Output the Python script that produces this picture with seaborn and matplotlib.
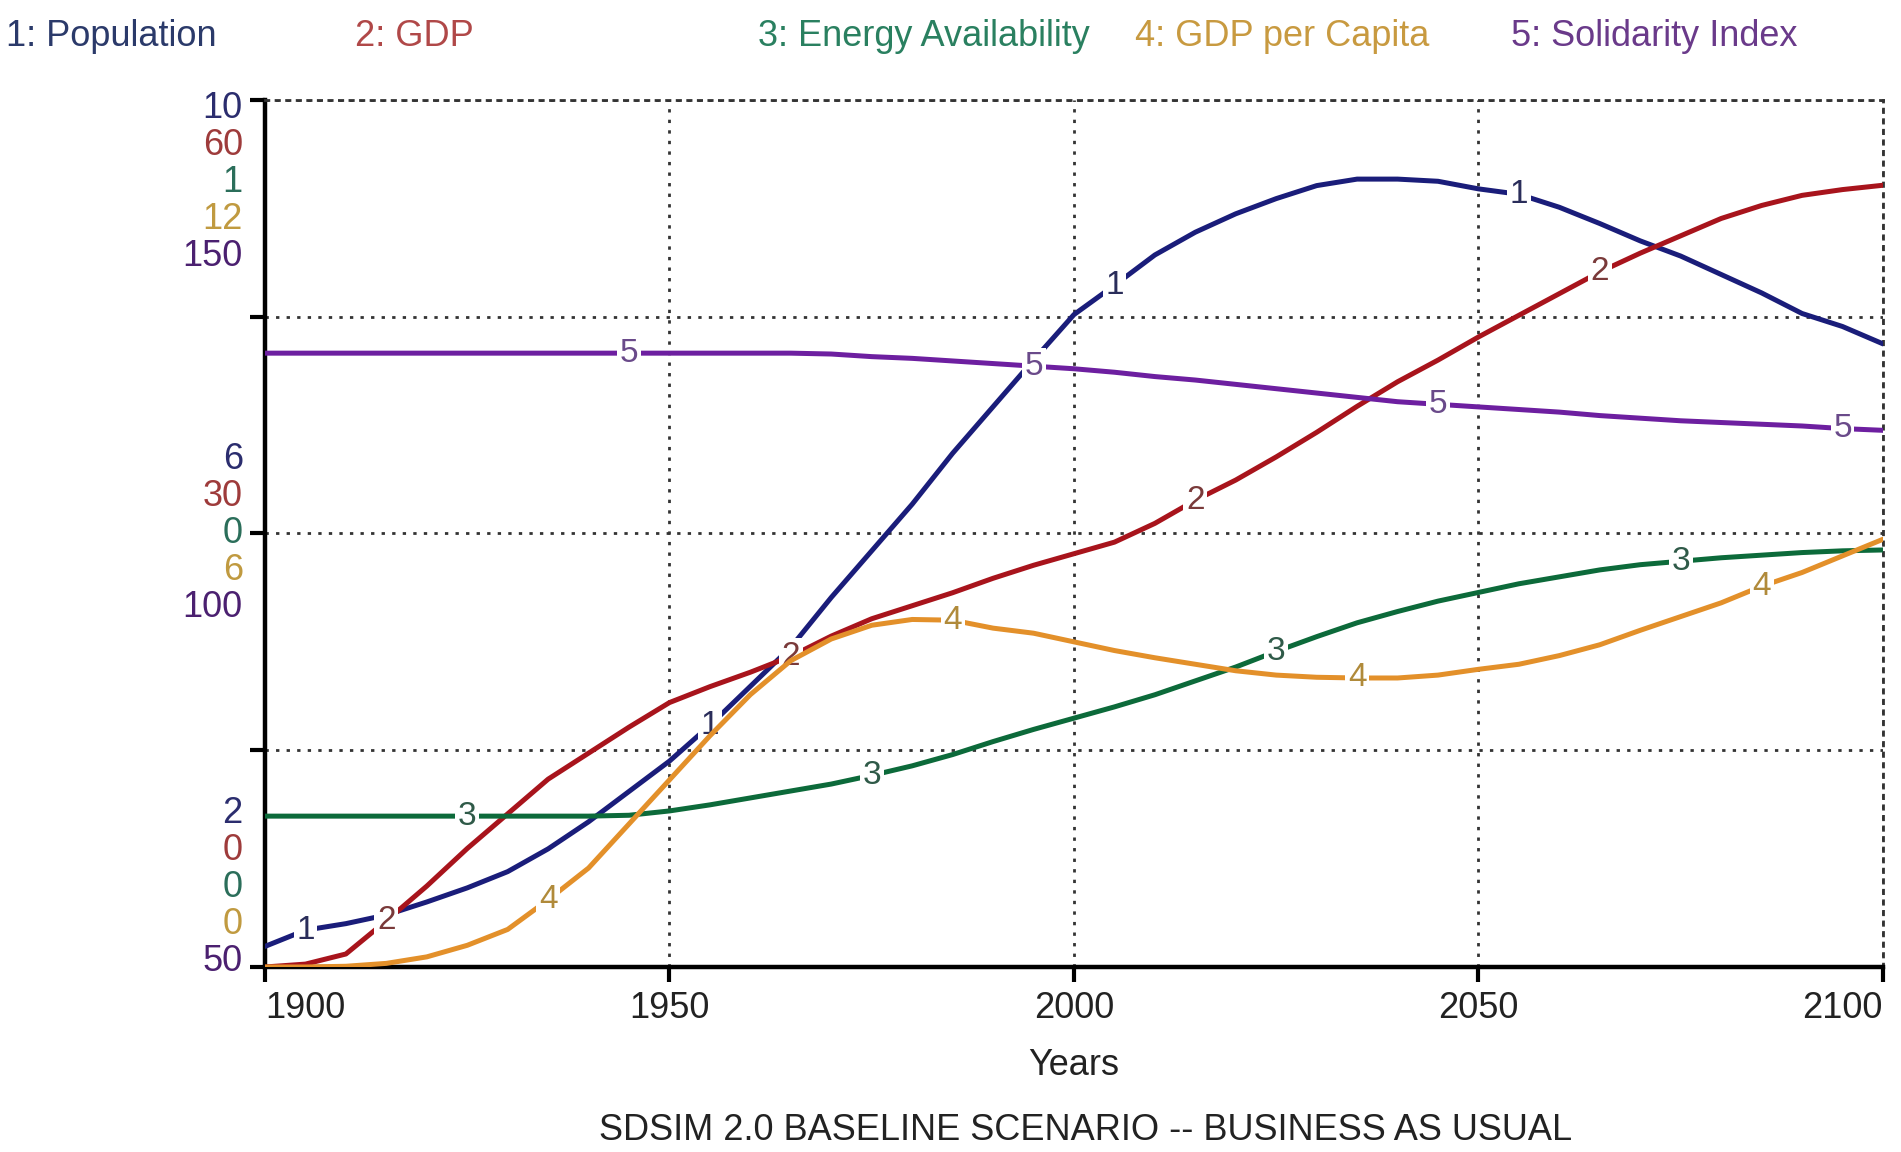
import matplotlib
matplotlib.use("Agg")
import matplotlib.pyplot as plt
import seaborn as sns
import pandas as pd

years = list(range(1900, 2101, 5))

population = [2.19, 2.34, 2.40, 2.48, 2.60, 2.73, 2.88, 3.09, 3.34, 3.62,
              3.90, 4.23, 4.59, 4.95, 5.41, 5.84, 6.27, 6.74, 7.17, 7.60,
              8.02, 8.29, 8.57, 8.78, 8.95, 9.09, 9.21, 9.27, 9.27, 9.25,
              9.18, 9.13, 9.01, 8.86, 8.70, 8.56, 8.39, 8.22, 8.03, 7.91, 7.75]

gdp = [0.0, 0.2, 0.9, 3.2, 5.6, 8.2, 10.6, 13.0, 14.8, 16.6,
       18.3, 19.4, 20.4, 21.5, 22.9, 24.1, 25.0, 25.9, 26.9, 27.8,
       28.6, 29.4, 30.7, 32.3, 33.7, 35.3, 37.0, 38.8, 40.5, 42.0,
       43.6, 45.1, 46.6, 48.1, 49.4, 50.6, 51.8, 52.7, 53.4, 53.8, 54.1]

energy = [0.174, 0.174, 0.174, 0.174, 0.174, 0.174, 0.174, 0.174, 0.174, 0.175,
          0.180, 0.187, 0.195, 0.203, 0.211, 0.221, 0.232, 0.245, 0.260, 0.274,
          0.287, 0.300, 0.314, 0.330, 0.346, 0.364, 0.381, 0.397, 0.410, 0.422,
          0.432, 0.442, 0.450, 0.458, 0.464, 0.468, 0.472, 0.475, 0.478, 0.480, 0.481]

gdp_per_capita = [0.0, 0.0, 0.01, 0.05, 0.14, 0.30, 0.52, 0.93, 1.37, 1.98,
                  2.59, 3.20, 3.77, 4.24, 4.54, 4.73, 4.81, 4.80, 4.69, 4.62,
                  4.50, 4.38, 4.28, 4.19, 4.10, 4.04, 4.01, 4.00, 4.00, 4.04,
                  4.12, 4.19, 4.31, 4.46, 4.66, 4.85, 5.04, 5.27, 5.46, 5.69, 5.92]

solidarity = [120.8, 120.8, 120.8, 120.8, 120.8, 120.8, 120.8, 120.8, 120.8, 120.8,
              120.8, 120.8, 120.8, 120.8, 120.7, 120.4, 120.2, 119.9, 119.6, 119.3,
              119.0, 118.6, 118.1, 117.7, 117.2, 116.7, 116.2, 115.7, 115.2, 114.9,
              114.6, 114.3, 114.0, 113.6, 113.3, 113.0, 112.8, 112.6, 112.4, 112.1, 111.9]

series_names = ["1: Population", "2: GDP", "3: Energy Availability",
                "4: GDP per Capita", "5: Solidarity Index"]
axis_ranges = [(2, 10), (0, 60), (0, 1), (0, 12), (50, 150)]
labels_top = ["10", "60", "1", "12", "150"]
labels_mid = ["6", "30", "0", "6", "100"]
labels_bottom = ["2", "0", "0", "0", "50"]
first_mark_year = [1905, 1915, 1925, 1935, 1945]
x_ticks = [1900, 1950, 2000, 2050, 2100]

df = pd.DataFrame({"Year": years,
                   "1": population, "2": gdp, "3": energy,
                   "4": gdp_per_capita, "5": solidarity})

line_colors = ["#1a1d7a", "#a8141c", "#0c6a3a", "#e3902a", "#6d1fa0"]
mark_colors = ["#2a2d5a", "#7a3a3a", "#2f5a48", "#b08a3a", "#6a4a8a"]
tick_colors = ["#2b2d6e", "#9e3b3b", "#2b6e5a", "#c09a40", "#4b2070"]
legend_colors = ["#2b3a6a", "#b04848", "#2a8060", "#c89a40", "#6a3a8a"]

# ---------------- style ----------------
sns.set_style("white")
plt.rcParams['font.family'] = ['Liberation Sans', 'DejaVu Sans']

fig = plt.figure(figsize=(19.01, 11.52), dpi=100)
ax = fig.add_axes([0.1394, 0.1606, 0.8511, 0.7526])

dotted = (0, (1.2, 2.6))

# one y scale per series (main axis carries population)
for i, name in enumerate(series_names):
    col = str(i + 1)
    target = ax if i == 0 else ax.twinx()
    sns.lineplot(data=df, x="Year", y=col, ax=target, color=line_colors[i],
                 lw=3.6, zorder=3, solid_joinstyle="round", solid_capstyle="round")
    target.set_ylim(*axis_ranges[i])
    target.set_xlim(1900, 2100)
    target.set_ylabel("")
    if i > 0:
        target.set_yticks([])
        target.tick_params(right=False)
        for sp in target.spines.values():
            sp.set_visible(False)
    # numbers written on the curves every 50 years
    for yr in range(first_mark_year[i], 2101, 50):
        val = df.loc[df["Year"] == yr, col].iloc[0]
        target.text(yr, val, col, ha="center", va="center", fontsize=24,
                    color=mark_colors[i], zorder=6,
                    bbox=dict(boxstyle="square,pad=0.08", fc="white", ec="none"))

# ---------------- axes cosmetics ----------------
lo, hi = axis_ranges[0]
ax.set_yticks([lo, lo + (hi - lo) * 0.25, lo + (hi - lo) * 0.5, lo + (hi - lo) * 0.75, hi])
ax.set_yticklabels([])
ax.set_xticks(x_ticks)
ax.set_xticklabels([str(t) for t in x_ticks], fontsize=26, color="#222222")
xl = ax.get_xticklabels()
xl[0].set_ha("left")
xl[-1].set_ha("right")
ax.tick_params(axis="both", direction="out", length=11, width=3, color="black",
               left=True, bottom=True)
ax.tick_params(axis="x", pad=6)

ax.grid(True, ls=dotted, lw=2, color="#333333")
ax.set_axisbelow(True)
for side in ["left", "bottom"]:
    ax.spines[side].set_color("black")
    ax.spines[side].set_linewidth(3.2)
for side in ["top", "right"]:
    ax.spines[side].set_linestyle(dotted)
    ax.spines[side].set_linewidth(2)
    ax.spines[side].set_color("#333333")

ax.set_xlabel("Years", fontsize=26, color="#222222", labelpad=16)

# stacked, colour coded scale labels on the left
step = 26.6
stacks = [(1.0, labels_top, [-6 - step * k for k in range(5)]),
          (0.5, labels_mid, [2 * step - step * k for k in range(5)]),
          (0.0, labels_bottom, [4 * step + 4 - step * k for k in range(5)])]
for frac, texts, offs in stacks:
    for i, (t, off) in enumerate(zip(texts, offs)):
        ax.annotate(t, xy=(0, frac), xycoords="axes fraction",
                    xytext=(-16, off), textcoords="offset points",
                    ha="right", va="center", fontsize=26, color=tick_colors[i])

# legend row along the top
legend_x = [6, 355, 758, 1135, 1511]
for i, name in enumerate(series_names):
    fig.text(legend_x[i] / 1901, 1 - 36 / 1152, name, fontsize=26,
             color=legend_colors[i], ha="left", va="center")

fig.text(1086 / 1901, 1 - 1130 / 1152, "SDSIM 2.0 BASELINE SCENARIO -- BUSINESS AS USUAL",
         fontsize=26, color="#222222", ha="center", va="center")

fig.savefig("out.png", dpi=100)
